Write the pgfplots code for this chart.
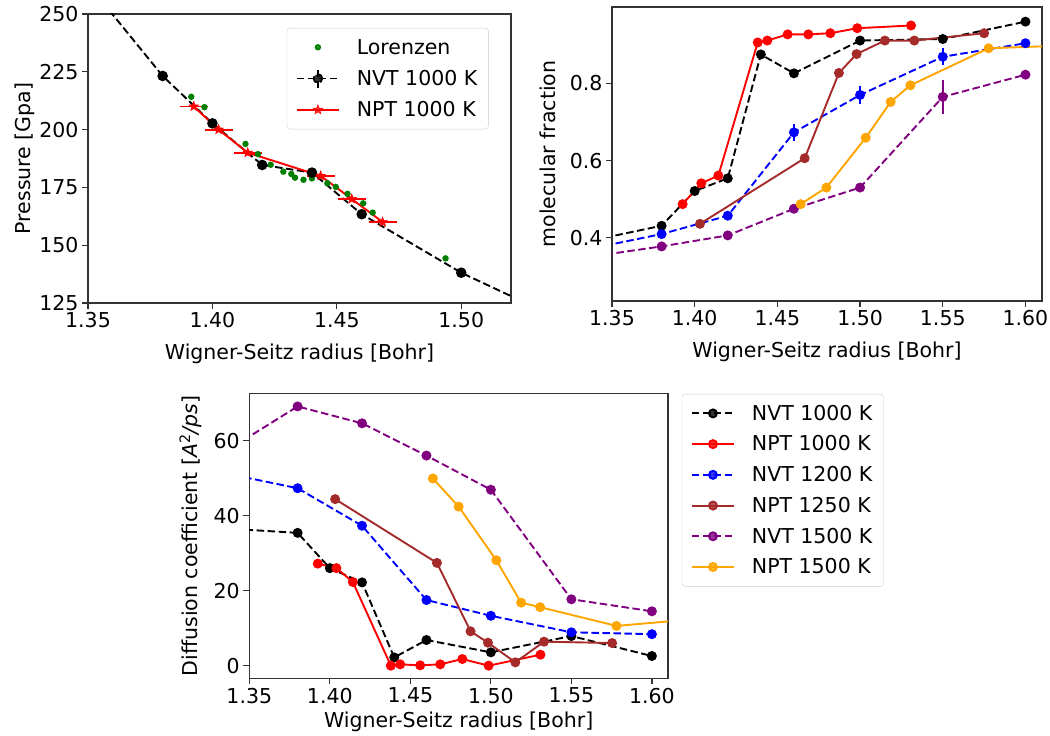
\documentclass[border=0pt]{standalone}
\usepackage{fontspec}
\setmainfont{DejaVu Sans}
\usepackage{pgfplots}
\pgfplotsset{compat=1.18}
\usetikzlibrary{plotmarks}
\definecolor{axgray}{HTML}{333333}
\definecolor{txtgray}{HTML}{262626}
\definecolor{mbrown}{HTML}{A52A2A}
\definecolor{mpurple}{HTML}{800080}
\definecolor{morange}{HTML}{FFA500}
\definecolor{mgreen}{HTML}{008000}
\definecolor{legborder}{HTML}{CCCCCC}
\pgfdeclareplotmark{fstar}{%
  \pgfpathmoveto{\pgfpointpolar{90}{\pgfplotmarksize}}%
  \pgfpathlineto{\pgfpointpolar{126}{0.42\pgfplotmarksize}}%
  \pgfpathlineto{\pgfpointpolar{162}{\pgfplotmarksize}}%
  \pgfpathlineto{\pgfpointpolar{198}{0.42\pgfplotmarksize}}%
  \pgfpathlineto{\pgfpointpolar{234}{\pgfplotmarksize}}%
  \pgfpathlineto{\pgfpointpolar{270}{0.42\pgfplotmarksize}}%
  \pgfpathlineto{\pgfpointpolar{306}{\pgfplotmarksize}}%
  \pgfpathlineto{\pgfpointpolar{342}{0.42\pgfplotmarksize}}%
  \pgfpathlineto{\pgfpointpolar{18}{\pgfplotmarksize}}%
  \pgfpathlineto{\pgfpointpolar{54}{0.42\pgfplotmarksize}}%
  \pgfpathclose\pgfusepathqfillstroke}
\pgfplotsset{
  myax/.style={
    scale only axis,
    axis line style={draw=axgray, line width=1.25pt},
    every tick/.style={draw=axgray, line width=1.25pt},
    major tick length=6pt,
    tick align=outside,
    tick pos=left,
    font=\fontsize{20.5}{24}\selectfont\color{txtgray},
    tick label style={font=\fontsize{20.5}{24}\selectfont},
    label style={font=\fontsize{20.5}{24}\selectfont},
    xlabel style={yshift=-9pt},
    /pgf/number format/assume math mode=true,
    xticklabel style={/pgf/number format/.cd, fixed, fixed zerofill, precision=2},
    legend style={draw=legborder, fill=white, fill opacity=0.8, text opacity=1,
      rounded corners=3pt, font=\fontsize{20.5}{24}\selectfont, row sep=10pt,
      column sep=15pt, inner xsep=9pt, inner ysep=9pt, cells={anchor=west}},
    legend image code/.code={\draw[mark repeat=2,mark phase=2,line width=1.9pt,##1] plot coordinates {(0pt,0pt) (21pt,0pt) (42pt,0pt)};},
  },
  dash/.style={dash pattern=on 7.5pt off 3.5pt},
  every axis plot/.append style={line width=1.9pt},
}
\begin{document}
\begin{tikzpicture}
\useasboundingbox (0,0) rectangle (1050pt,736pt);
% ---------------- top left ----------------
\begin{axis}[myax, at={(88pt,433pt)}, anchor=south west, width=423pt, height=289pt,
  xmin=1.35, xmax=1.52, ymin=125, ymax=250,
  xtick={1.35,1.40,1.45,1.50}, ytick={125,150,175,200,225,250},
  xlabel={Wigner-Seitz radius [Bohr]}, ylabel={Pressure [Gpa]},
  ylabel style={yshift=-2pt},
  legend style={at={(0.947,0.952)}, anchor=north east}]
\addplot[only marks, mark=*, mark size=2.2pt, color=mgreen, mark options={draw=none}] coordinates {
(1.3915,214.2) (1.3968,209.7) (1.4133,193.8) (1.4183,189.4) (1.4234,184.8)
(1.4285,181.8) (1.4317,180.8) (1.4332,179.2) (1.4366,178.3) (1.4400,178.9)
(1.4462,176.8) (1.4496,175.2) (1.4543,172.2) (1.4606,168.1) (1.4644,164.1)
(1.4937,144.3)};
\addlegendentry{Lorenzen}
\addplot[black, dash, mark=*, mark size=4.3pt, mark options={solid},
  legend image code/.code={\draw[black,line width=1.9pt,dash pattern=on 7.5pt off 3.5pt] (0pt,0pt)--(42pt,0pt); \draw[black,line width=1.9pt] (21pt,-10pt)--(21pt,10pt); \fill[black] (21pt,0pt) circle (4.3pt);}]
 coordinates {(1.30,329) (1.38,223.2) (1.40,202.7) (1.42,184.7) (1.44,181.4) (1.46,163.4) (1.50,138.1) (1.55,112.8)};
\addlegendentry{NVT 1000 K}
\addplot[red, mark=fstar, mark size=5pt, mark options={line width=0.5pt}, error bars/.cd, x dir=both, x explicit,
  error bar style={line width=1.9pt}, error mark=none]
 coordinates {(1.3925,210) +- (0.0056,0) (1.4025,200) +- (0.0056,0) (1.4142,190) +- (0.0056,0)
 (1.4435,180) +- (0.0056,0) (1.4560,170) +- (0.0056,0) (1.4684,160) +- (0.0056,0)};
\addlegendentry{NPT 1000 K}
\end{axis}
% ---------------- top right ----------------
\begin{axis}[myax, at={(612pt,435pt)}, anchor=south west, width=430pt, height=294pt,
  xmin=1.35, xmax=1.61, ymin=0.236, ymax=0.998,
  xtick={1.35,1.40,1.45,1.50,1.55,1.60}, ytick={0.4,0.6,0.8},
  yticklabel style={/pgf/number format/.cd, fixed, precision=1},
  xlabel={Wigner-Seitz radius [Bohr]}, ylabel={molecular fraction},
  ylabel style={yshift=7pt}]
\addplot[black, dash, mark=*, mark size=4pt, mark options={solid},
  error bars/.cd, y dir=both, y explicit, error bar style={line width=1.9pt,solid}, error mark=none]
 coordinates {(1.30,0.359) (1.38,0.431) +- (0,0.004) (1.40,0.521) +- (0,0.004) (1.42,0.554) +- (0,0.004)
 (1.44,0.875) +- (0,0.006) (1.46,0.826) +- (0,0.006) (1.50,0.911) +- (0,0.005) (1.55,0.915) +- (0,0.01) (1.60,0.960) +- (0,0.005)};
\addplot[red, mark=*, mark size=4pt] coordinates {
 (1.3927,0.487) (1.404,0.541) (1.4143,0.561) (1.4381,0.906) (1.4439,0.911)
 (1.4562,0.927) (1.4687,0.927) (1.482,0.930) (1.4983,0.943) (1.5308,0.950)};
\addplot[blue, dash, mark=*, mark size=4pt, mark options={solid},
  error bars/.cd, y dir=both, y explicit, error bar style={line width=1.9pt,solid}, error mark=none]
 coordinates {(1.30,0.339) (1.38,0.4095) +- (0,0.004) (1.42,0.457) +- (0,0.005) (1.46,0.673) +- (0,0.023)
 (1.50,0.770) +- (0,0.023) (1.55,0.869) +- (0,0.022) (1.60,0.904) +- (0,0.006)};
\addplot[mbrown, mark=*, mark size=4pt] coordinates {
 (1.4032,0.436) (1.4665,0.606) (1.4872,0.827) (1.4979,0.876) (1.515,0.911) (1.5328,0.911) (1.575,0.930)};
\addplot[mpurple, dash, mark=*, mark size=4pt, mark options={solid},
  error bars/.cd, y dir=both, y explicit, error bar style={line width=1.9pt,solid}, error mark=none]
 coordinates {(1.30,0.328) (1.38,0.3775) +- (0,0.004) (1.42,0.406) +- (0,0.004) (1.46,0.475) +- (0,0.005)
 (1.50,0.530) +- (0,0.005) (1.55,0.765) +- (0,0.044) (1.60,0.8225) +- (0,0.01)};
\addplot[morange, mark=*, mark size=4pt] coordinates {
 (1.4641,0.487) (1.4796,0.530) (1.5034,0.659) (1.5185,0.752) (1.5304,0.795) (1.5777,0.891) (1.65,0.902)};
\end{axis}
% ---------------- bottom ----------------
\begin{axis}[myax, at={(249.3pt,57.7pt)}, anchor=south west, width=418.7pt, height=285pt,
  xmin=1.35, xmax=1.61, ymin=-3.36, ymax=72.6,
  xtick={1.35,1.40,1.45,1.50,1.55,1.60}, ytick={0,20,40,60},
  xlabel={Wigner-Seitz radius [Bohr]}, ylabel={Diffusion coefficient [\textit{A}\textsuperscript{2}\textit{/ps}]},
  xlabel style={yshift=7pt},
  ylabel style={yshift=5pt},
  legend style={at={(1.033,0.998)}, anchor=north west}]
\addplot[black, dash, mark=*, mark size=4pt, mark options={solid}] coordinates {
 (1.30,37.5) (1.38,35.4) (1.40,26.0) (1.42,22.2) (1.44,2.2) (1.46,6.84) (1.50,3.56) (1.55,7.9) (1.60,2.58)};
\addlegendentry{NVT 1000 K}
\addplot[red, mark=*, mark size=4pt] coordinates {
 (1.3925,27.2) (1.4041,26.0) (1.4143,22.3) (1.4379,0.0) (1.4437,0.36) (1.4561,0.09)
 (1.4686,0.36) (1.4823,1.78) (1.4986,0.0) (1.5308,2.93)};
\addlegendentry{NPT 1000 K}
\addplot[blue, dash, mark=*, mark size=4pt, mark options={solid}] coordinates {
 (1.30,54.4) (1.38,47.3) (1.42,37.3) (1.46,17.5) (1.50,13.3) (1.55,8.9) (1.60,8.4)};
\addlegendentry{NVT 1200 K}
\addplot[mbrown, mark=*, mark size=4pt] coordinates {
 (1.4033,44.4) (1.4665,27.4) (1.4874,9.16) (1.4982,6.13) (1.5152,0.89) (1.533,6.4) (1.5753,6.04)};
\addlegendentry{NPT 1250 K}
\addplot[mpurple, dash, mark=*, mark size=4pt, mark options={solid}] coordinates {
 (1.30,47.7) (1.38,69.1) (1.42,64.6) (1.46,56.0) (1.50,46.9) (1.55,17.7) (1.60,14.5)};
\addlegendentry{NVT 1500 K}
\addplot[morange, mark=*, mark size=4pt] coordinates {
 (1.464,49.9) (1.48,42.4) (1.5034,28.1) (1.5188,16.8) (1.5306,15.6) (1.578,10.6) (1.65,13.3)};
\addlegendentry{NPT 1500 K}
\end{axis}
\end{tikzpicture}
\end{document}
